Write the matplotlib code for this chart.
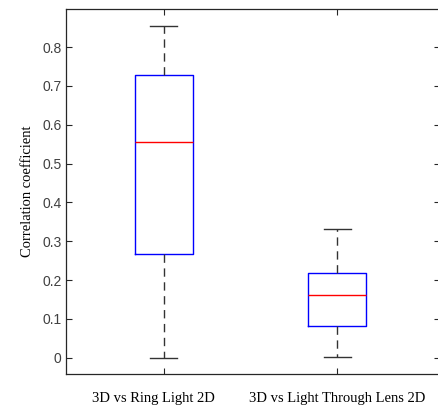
import matplotlib.pyplot as plt
import matplotlib.transforms as mtransforms

labels = ["3D vs Ring Light 2D", "3D vs Light Through Lens 2D"]
whislo = [0.0, 0.003]
q1 = [0.268, 0.082]
med = [0.556, 0.161]
q3 = [0.727, 0.217]
whishi = [0.855, 0.331]

stats = []
for i in range(len(labels)):
    stats.append({"label": labels[i], "whislo": whislo[i], "q1": q1[i],
                  "med": med[i], "q3": q3[i], "whishi": whishi[i], "fliers": []})

fig = plt.figure(figsize=(4.38, 4.07), dpi=100)
ax = fig.add_axes([0.1518, 0.0811, 0.852, 0.8975])

ax.bxp(stats, positions=[1, 2], widths=0.335, capwidths=0.158, showfliers=False,
       boxprops=dict(color="blue", linewidth=1),
       medianprops=dict(color="red", linewidth=1),
       whiskerprops=dict(color="#333333", linewidth=1, linestyle=(0, (6, 4))),
       capprops=dict(color="#333333", linewidth=1))

ax.set_xlim(0.44, 2.59)
ax.set_ylim(-0.042, 0.899)
ax.set_yticks([0, 0.1, 0.2, 0.3, 0.4, 0.5, 0.6, 0.7, 0.8])
ax.set_yticklabels(["0", "0.1", "0.2", "0.3", "0.4", "0.5", "0.6", "0.7", "0.8"])
ax.set_xticks([1, 2])
ax.set_xticklabels(labels, fontfamily="Liberation Serif", fontsize=10.5, color="black")
ax.tick_params(axis="y", labelsize=10, labelcolor="#404040", direction="in",
               length=4, right=True, color="#262626")
ax.tick_params(axis="x", direction="in", length=4, top=True, pad=13, color="#262626")
for s in ax.spines.values():
    s.set_color("#262626")
    s.set_linewidth(0.9)
for t in ax.get_yticklabels():
    t.set_fontfamily("Liberation Sans")

# first label sits a little left of its tick in the original
lab0 = ax.get_xticklabels()[0]
lab0.set_transform(lab0.get_transform() +
                   mtransforms.ScaledTranslation(-0.1, 0, fig.dpi_scale_trans))

ax.set_ylabel("Correlation coefficient", fontfamily="Liberation Serif", fontsize=10.5,
              labelpad=6)

fig.savefig("out.png", dpi=100)
